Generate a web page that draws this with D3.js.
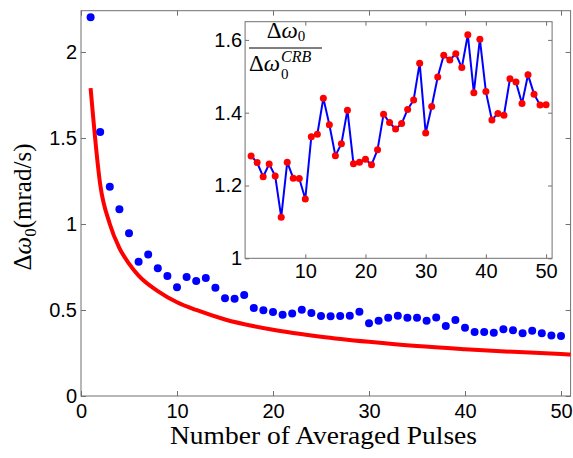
<!DOCTYPE html>
<html>
<head>
<meta charset="utf-8">
<script src="https://cdn.jsdelivr.net/npm/d3@7"></script>
<style>
  body { margin: 0; background: #fff; }
  .tick text { font-family: "Liberation Sans", Arial, sans-serif; fill: #000; }
  .tick line { stroke: #707070; }
</style>
</head>
<body>
<div id="chart"></div>
<script>
// pulse counts 1..50
const pulses = d3.range(1, 51);

// measured frequency uncertainty (mrad/s), blue dots
const measured = [2.202, 1.535, 1.216, 1.085, 0.946, 0.781, 0.822, 0.742, 0.698, 0.632,
  0.692, 0.669, 0.686, 0.630, 0.568, 0.566, 0.587, 0.512, 0.498, 0.488,
  0.473, 0.479, 0.502, 0.483, 0.465, 0.463, 0.465, 0.467, 0.490, 0.423,
  0.438, 0.455, 0.467, 0.455, 0.455, 0.438, 0.457, 0.407, 0.442, 0.397,
  0.372, 0.372, 0.368, 0.388, 0.382, 0.365, 0.380, 0.365, 0.351, 0.349];

// Cramer-Rao bound curve, red line
const crbN = [1, 2, 3, 4, 5, 6, 8, 10, 12, 15, 20, 25, 30, 35, 40, 45, 50, 51];
const crbVal = [1.79, 1.23, 1.0, 0.86, 0.77, 0.70, 0.61, 0.545, 0.50, 0.445,
  0.385, 0.345, 0.315, 0.29, 0.272, 0.257, 0.244, 0.241];

// ratio measured / CRB, inset
const ratio = [1.281, 1.263, 1.224, 1.259, 1.226, 1.113, 1.264, 1.220, 1.219, 1.163,
  1.334, 1.341, 1.440, 1.367, 1.282, 1.315, 1.407, 1.260, 1.264, 1.272,
  1.257, 1.298, 1.396, 1.373, 1.355, 1.370, 1.409, 1.435, 1.536, 1.344,
  1.417, 1.498, 1.558, 1.545, 1.562, 1.524, 1.614, 1.455, 1.602, 1.458,
  1.380, 1.398, 1.393, 1.493, 1.484, 1.425, 1.504, 1.451, 1.421, 1.422];

// tick values
const xTicks = [0, 10, 20, 30, 40, 50];
const yTicks = [0, 0.5, 1, 1.5, 2];
const insetXTicks = [10, 20, 30, 40, 50];
const insetYTicks = [1, 1.2, 1.4, 1.6];

const W = 573, H = 458;
const serif = "'Liberation Serif', 'DejaVu Serif', serif";
const svg = d3.select("#chart").append("svg")
  .attr("width", W)
  .attr("height", H);

// main axes frame
const main = {left: 81, right: 570.6, top: 10.7, bottom: 396};
const x = d3.scaleLinear().domain([0, 51]).range([main.left, main.right]);
const y = d3.scaleLinear().domain([0, 2.24]).range([main.bottom, main.top]);

// draw an axes box with inward ticks on all four sides
function drawAxes(g, xs, ys, xt, yt, tick, fontSize, padX, padY) {
  const [x0, x1] = xs.range();
  const [y0, y1] = ys.range();

  g.append("rect")
    .attr("x", x0).attr("y", y1)
    .attr("width", x1 - x0).attr("height", y0 - y1)
    .attr("fill", "none")
    .attr("stroke", "#707070")
    .attr("stroke-width", 1);

  const bx = g.append("g")
    .attr("transform", "translate(0," + y0 + ")")
    .call(d3.axisBottom(xs).tickValues(xt).tickSize(-tick).tickPadding(padX).tickFormat(d3.format("")));
  const tx = g.append("g")
    .attr("transform", "translate(0," + y1 + ")")
    .call(d3.axisTop(xs).tickValues(xt).tickSize(-tick).tickFormat(""));
  const ly = g.append("g")
    .attr("transform", "translate(" + x0 + ",0)")
    .call(d3.axisLeft(ys).tickValues(yt).tickSize(-tick).tickPadding(padY).tickFormat(d3.format("")));
  const ry = g.append("g")
    .attr("transform", "translate(" + x1 + ",0)")
    .call(d3.axisRight(ys).tickValues(yt).tickSize(-tick).tickFormat(""));

  [bx, tx, ly, ry].forEach(a => {
    a.select(".domain").remove();
    a.selectAll("text").style("font-size", fontSize + "px");
  });
}

drawAxes(svg.append("g"), x, y, xTicks, yTicks, 5, 20, 8, 4);

// CRB curve
const crbLine = d3.line()
  .x((d, i) => x(crbN[i]))
  .y(d => y(d))
  .curve(d3.curveMonotoneX);

svg.append("path")
  .datum(crbVal)
  .attr("d", crbLine)
  .attr("fill", "none")
  .attr("stroke", "#ff0000")
  .attr("stroke-width", 4);

// measured dots
svg.append("g")
  .selectAll("circle")
  .data(measured)
  .join("circle")
  .attr("cx", (d, i) => x(pulses[i]))
  .attr("cy", d => y(d))
  .attr("r", 4)
  .attr("fill", "#0000ff");

// axis titles
svg.append("text")
  .attr("x", (170 + 477) / 2)
  .attr("y", 444)
  .attr("text-anchor", "middle")
  .style("font-family", serif)
  .style("font-size", "25px")
  .attr("textLength", 307)
  .attr("lengthAdjust", "spacingAndGlyphs")
  .text("Number of Averaged Pulses");

const ylab = svg.append("text")
  .attr("transform", "translate(31,207) rotate(-90)")
  .attr("text-anchor", "middle")
  .style("font-family", serif)
  .style("font-size", "25px");
ylab.append("tspan").text("Δ");
ylab.append("tspan").style("font-style", "italic").text("ω");
ylab.append("tspan").attr("dy", 5).style("font-size", "17px").text("0");
ylab.append("tspan").attr("dy", -5).text("(mrad/s)");

// inset
const inset = {left: 245.1, right: 552.1, top: 21.7, bottom: 258.3};
const xi = d3.scaleLinear().domain([0, 51]).range([inset.left, inset.right]);
const yi = d3.scaleLinear().domain([1, 1.65]).range([inset.bottom, inset.top]);

const gi = svg.append("g");
gi.append("rect")
  .attr("x", inset.left).attr("y", inset.top)
  .attr("width", inset.right - inset.left)
  .attr("height", inset.bottom - inset.top)
  .attr("fill", "#fff");

drawAxes(gi, xi, yi, insetXTicks, insetYTicks, 4, 20, 6, 3);

gi.append("path")
  .datum(ratio)
  .attr("d", d3.line().x((d, i) => xi(pulses[i])).y(d => yi(d)))
  .attr("fill", "none")
  .attr("stroke", "#0000ff")
  .attr("stroke-width", 2);

gi.append("g")
  .selectAll("circle")
  .data(ratio)
  .join("circle")
  .attr("cx", (d, i) => xi(pulses[i]))
  .attr("cy", d => yi(d))
  .attr("r", 3.5)
  .attr("fill", "#ff0000");

// inset fraction label
const num = gi.append("text")
  .attr("x", 286)
  .attr("y", 38)
  .attr("text-anchor", "middle")
  .style("font-family", serif)
  .style("font-size", "23px");
num.append("tspan").text("Δ");
num.append("tspan").style("font-style", "italic").text("ω");
num.append("tspan").attr("dy", 3).style("font-size", "15px").text("0");

gi.append("line")
  .attr("x1", 249).attr("x2", 322)
  .attr("y1", 48).attr("y2", 48)
  .attr("stroke", "#000")
  .attr("stroke-width", 1);

const den = gi.append("text")
  .attr("x", 249)
  .attr("y", 71)
  .style("font-family", serif)
  .style("font-size", "23px");
den.append("tspan").text("Δ");
den.append("tspan").style("font-style", "italic").text("ω");
const baseW = den.node().getComputedTextLength();

// sub and superscript stacked after the omega, as separate texts
gi.append("text")
  .attr("x", 249 + baseW + 1)
  .attr("y", 79)
  .style("font-family", serif)
  .style("font-size", "15px")
  .text("0");
gi.append("text")
  .attr("x", 249 + baseW + 1)
  .attr("y", 62)
  .style("font-family", serif)
  .style("font-size", "16px")
  .style("font-style", "italic")
  .text("CRB");
</script>
</body>
</html>
